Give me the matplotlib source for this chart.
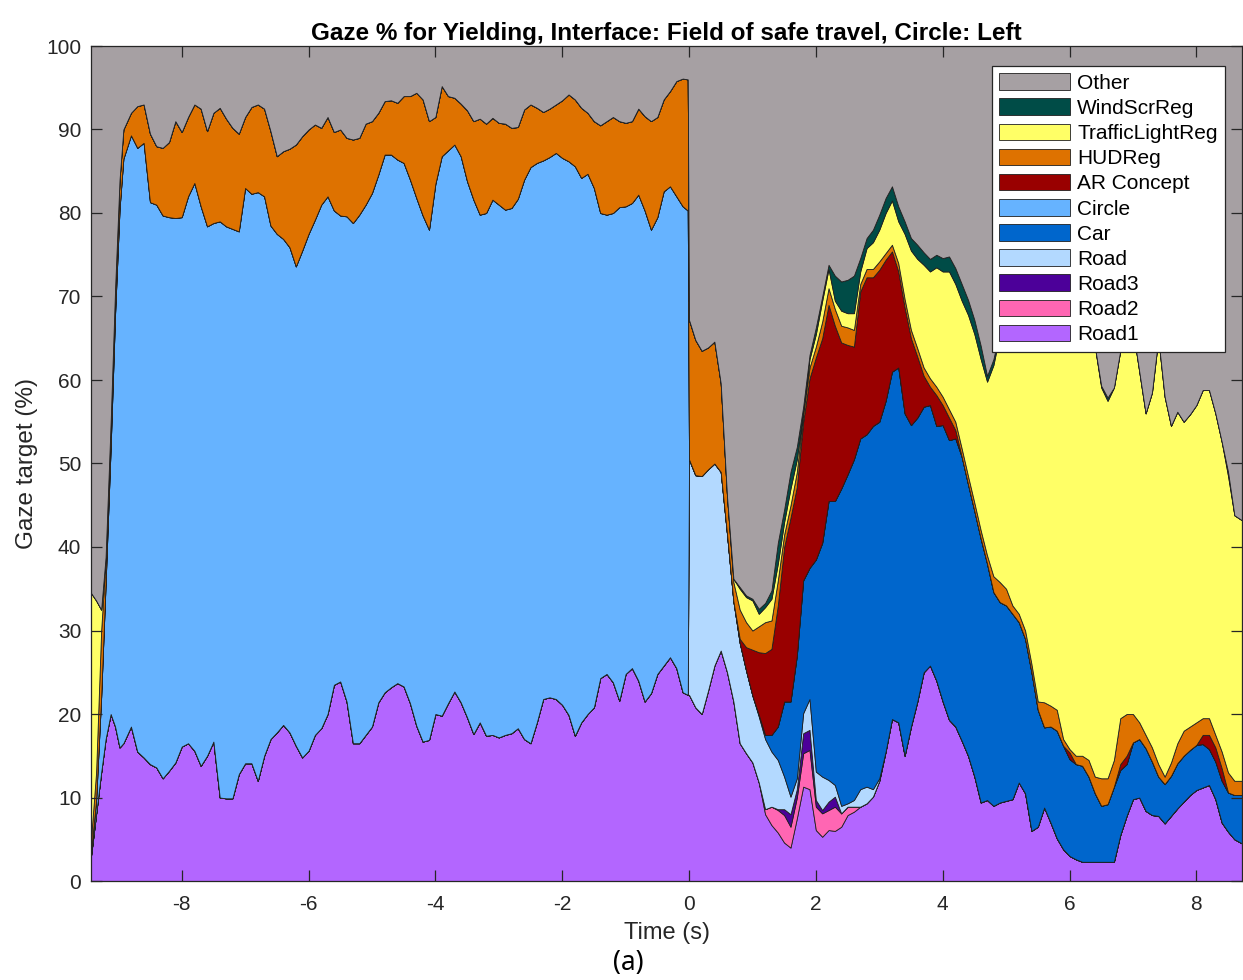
import matplotlib
matplotlib.use("Agg")
import matplotlib.pyplot as plt
import numpy as np

# sample times (s): before the circle switch (t < 0) and after it
time_left = [-9.43, -9.35, -9.27, -9.2, -9.12, -9.05, -8.98, -8.92] + \
    list(np.round(np.arange(-8.8, -0.05, 0.1), 2)) + [-0.02]
time_right = list(np.round(np.arange(0.0, 8.65, 0.1), 2)) + [8.72]
N_LEFT = len(time_left)

# gaze share (%) per target, t < 0
road1_left = [3.0, 8.0, 13.0, 17.0, 20.0, 18.5, 16.0, 16.5,
              18.5, 15.5, 14.8, 14.0, 13.6, 12.3, 13.2, 14.2, 16.1, 16.5,
              15.6, 13.8, 15.0, 16.7, 10.0, 9.9, 9.9, 12.8, 14.1, 14.1,
              12.0, 15.0, 17.0, 17.8, 18.7, 17.8, 16.2, 14.8, 15.6, 17.5,
              18.3, 20.0, 23.5, 23.9, 21.5, 16.5, 16.5, 17.5, 18.5, 21.4,
              22.6, 23.2, 23.7, 23.3, 21.3, 18.6, 16.7, 16.9, 20.0, 19.8,
              21.3, 22.7, 21.4, 19.6, 17.6, 19.0, 17.4, 17.5, 17.2, 17.5,
              17.7, 18.3, 17.0, 16.5, 19.0, 21.8, 22.0, 21.8, 21.1, 19.9,
              17.4, 19.0, 20.0, 20.8, 24.3, 24.8, 23.8, 21.6, 24.8, 25.5,
              24.0, 21.5, 22.5, 24.8, 25.8, 26.8, 25.5, 22.6,
              22.3]
circle_left = [0.5, 1.6, 9.0, 18.6, 32.0, 49.5, 64.5, 70.0,
               70.8, 72.3, 73.6, 67.3, 67.4, 67.4, 66.3, 65.2, 63.4, 65.5,
               68.0, 67.0, 63.4, 62.1, 69.0, 68.5, 68.2, 65.0, 68.9, 68.2,
               70.5, 67.0, 61.5, 59.7, 58.2, 58.1, 57.4, 60.7, 61.9, 61.7,
               62.7, 62.0, 56.8, 55.8, 58.1, 62.3, 63.3, 63.5, 63.9, 63.2,
               64.4, 63.8, 62.7, 62.7, 62.7, 63.2, 63.0, 61.1, 63.5, 67.0,
               66.2, 65.5, 65.4, 64.2, 64.0, 60.8, 62.6, 64.1, 63.8, 62.9,
               62.9, 63.4, 67.0, 69.0, 67.0, 64.5, 64.7, 65.4, 65.5, 66.3,
               68.2, 65.2, 64.7, 62.2, 55.7, 55.0, 56.2, 59.1, 56.0, 55.7,
               58.2, 58.8, 55.5, 54.7, 56.8, 56.4, 56.5, 58.2,
               58.0]
hud_left = [1.5, 3.4, 8.0, 2.9, 3.0, 3.0, 3.5, 3.5,
            2.7, 5.0, 4.6, 8.2, 7.0, 8.1, 9.0, 11.6, 10.2, 9.5,
            9.4, 11.7, 11.4, 13.2, 13.6, 12.9, 12.1, 11.7, 8.5, 10.4,
            10.5, 10.5, 11.3, 9.3, 10.5, 11.8, 14.6, 13.7, 12.5, 11.4,
            9.2, 9.5, 9.4, 10.3, 9.4, 10.0, 9.2, 9.7, 8.6, 7.4,
            6.4, 6.5, 6.8, 8.0, 10.0, 12.6, 13.9, 13.0, 8.0, 8.4,
            6.5, 5.6, 6.3, 8.5, 9.4, 11.5, 10.7, 9.8, 9.8, 10.3,
            9.6, 8.6, 8.4, 7.5, 6.6, 5.8, 5.8, 5.8, 6.9, 8.0,
            8.0, 8.4, 7.3, 8.0, 10.5, 11.2, 11.5, 10.3, 10.0, 9.8,
            10.3, 11.3, 13.0, 12.0, 11.0, 11.4, 13.8, 15.3,
            15.7]
traffic_left = [29.5, 20.6, 2.5, 0.3] + [0] * (N_LEFT - 4)

# gaze share (%) per target, t >= 0
road1_right = [22.3, 20.8, 20.0, 22.8, 25.8, 27.6, 25.0, 21.5, 16.5, 15.3,
               14.2, 11.8, 8.0, 6.7, 5.8, 4.6, 4.0, 7.5, 11.3, 11.0,
               6.1, 5.3, 6.1, 6.0, 6.5, 7.9, 8.3, 8.9, 9.3, 10.1,
               12.0, 15.5, 19.4, 19.0, 15.0, 18.5, 21.5, 25.0, 25.8, 24.0,
               21.5, 19.3, 18.5, 16.8, 15.0, 12.5, 9.4, 9.7, 9.0, 9.4,
               9.6, 9.8, 11.8, 10.5, 6.0, 6.5, 8.8, 7.0, 5.1, 3.8,
               3.0, 2.6, 2.3, 2.3, 2.3, 2.3, 2.3, 2.3, 5.5, 7.8,
               9.8, 10.0, 8.4, 7.9, 7.8, 6.9, 7.8, 8.7, 9.5, 10.3,
               10.9, 11.2, 11.5, 9.8, 7.0, 5.9, 5.0, 4.5]
road2_right = [0] * 12 + [0.6, 2.2, 2.7, 3.3, 2.5, 2.5, 4.0, 4.7,
                          2.8, 2.8, 2.4, 2.9, 1.6, 1.0, 0.6] + [0] * 61
road3_right = [0] * 14 + [0.1, 0.7, 1.5, 1.0, 2.4, 2.4,
                          0.8, 0.4, 1.0, 1.2] + [0] * 64
road_right = [28.2, 27.8, 28.5, 26.5, 24.2, 21.4, 16.5, 12.0, 12.0, 9.9,
              8.0, 7.9, 8.4, 6.6, 5.9, 3.9, 2.1, 1.3, 2.4, 3.7,
              3.4, 4.0, 2.6, 1.4, 0.9, 0.4, 0.8, 2.1, 2.0, 0.9,
              0.3] + [0] * 57
car_right = [0] * 11 + [0.2, 0.5, 2.0, 4.0, 9.0, 11.4, 14.7, 15.9, 15.7,
                        25.4, 28.0, 33.4, 34.0, 38.0, 39.4, 40.8, 42.0, 42.2, 43.5,
                        42.7, 42.0, 41.6, 42.5, 41.0, 36.1, 34.0, 31.8, 31.2, 30.5,
                        33.1, 33.5, 34.5, 34.0, 32.5, 31.8, 31.6, 28.3, 25.6, 24.0,
                        23.4, 22.2, 19.2, 18.5, 19.0, 14.0, 9.6, 11.5, 12.9, 12.4,
                        11.6, 11.4, 11.5, 10.2, 8.2, 6.7, 6.9, 9.0, 7.8, 6.2,
                        6.8, 7.0, 7.5, 6.4, 4.7, 4.7, 4.8, 5.4, 5.5, 5.4,
                        5.4, 5.2, 4.3, 4.5, 5.0, 4.7, 5.3, 5.8]
ar_right = [0] * 8 + [0.5, 2.8, 5.5, 7.5, 9.8, 10.3, 14.5, 18.5, 22.0, 20.2, 19.0, 22.7,
                      24.2, 24.5, 23.5, 21.0, 17.5, 15.5, 13.5, 17.6, 18.8, 17.8,
                      18.2, 16.9, 14.4, 11.5, 12.7, 10.4, 7.3, 3.7, 2.2, 3.7,
                      2.4, 2.7, 1.0, 0] + [0] * 16 + [0.8] + [0] * 7 + \
    [0.7, 1.0] + [0] * 11 + [1.1, 1.7, 1.7, 1.5, 0, 0, 0]
hud_right = [16.7, 16.2, 15.0, 14.6, 14.6, 10.6, 4.5, 2.3, 3.5, 3.0,
             2.3, 3.1, 3.7, 3.4, 3.0, 1.5, 1.5, 1.8, 1.0, 1.3,
             1.3, 2.0, 2.0, 2.0, 2.0, 2.1, 2.0, 0.9, 1.0, 1.0,
             1.0, 0.8, 0.8, 1.0, 1.0, 1.0, 1.0, 1.0, 1.0, 1.0,
             1.0, 1.0, 1.0, 1.0, 1.0, 1.0, 1.0, 1.0, 1.9, 2.4,
             2.0, 1.0, 1.0, 1.0, 1.0, 1.0, 3.0, 2.5, 2.5, 0.8,
             0.4, 1.0, 1.2, 2.0, 2.0, 3.3, 3.1, 3.2, 5.5, 5.0,
             3.4, 2.0, 1.6, 1.7, 1.5, 0.9, 1.6, 2.4, 3.0, 2.8,
             2.7, 2.0, 2.0, 1.5, 2.0, 2.4, 1.7, 1.7]
traffic_right = [0] * 7 + [0.4, 2.5, 3.0, 3.6, 1.5, 1.8, 2.6, 2.0, 1.5, 2.0, 1.5, 0.3, 1.0,
                           1.5, 2.5, 2.3, 1.0, 1.8, 1.7, 2.0, 1.5, 2.5, 3.2,
                           3.8, 4.8, 5.3, 5.0, 7.8, 9.5, 10.7, 12.3, 12.8, 14.3,
                           15.0, 16.5, 16.5, 17.7, 19.3, 20.2, 20.5, 20.8, 25.3, 29.7,
                           31.0, 33.0, 34.0, 36.0, 40.0, 44.5, 44.6, 45.0, 45.5, 49.0,
                           50.2, 51.0, 51.0, 51.5, 51.5, 46.8, 45.2, 44.6, 44.0, 46.0,
                           46.0, 42.0, 38.5, 42.5, 51.0, 45.5, 40.3, 39.7, 37.0, 37.4,
                           38.0, 39.3, 39.3, 38.5, 37.1, 35.5, 31.8, 31.2]
windscr_right = [0] * 8 + [0.2, 0.2, 0.2, 0.6, 0.5, 1.0, 2.5, 1.5, 2.0, 1.5, 0.5, 0.5,
                           0.8, 0.5, 0.5, 3.0, 3.5, 4.0, 4.5, 1.6, 1.2, 1.5,
                           1.8, 1.8, 1.7, 1.8, 1.5, 1.5, 1.7, 1.5, 1.5, 1.5,
                           1.6, 1.8, 1.9, 2.0, 1.8, 1.7, 1.6, 0.7, 0.7, 0.5] + \
    [0] * 15 + [0.2, 0.4] + [0] * 18 + [0.5, 0, 0]

time = np.array(time_left + time_right)
zeros_left = [0] * N_LEFT
road1 = np.array(road1_left + road1_right)
road2 = np.array(zeros_left + road2_right)
road3 = np.array(zeros_left + road3_right)
road = np.array(zeros_left + road_right)
car = np.array(zeros_left + car_right)
circle = np.array(circle_left + [0] * len(time_right))
ar_concept = np.array(zeros_left + ar_right)
hud = np.array(hud_left + hud_right)
traffic = np.array(traffic_left + traffic_right)
windscr = np.array(zeros_left + windscr_right)
# everything not on a listed target fills up to 100 %
other = 100 - (road1 + road2 + road3 + road + car + circle + ar_concept
               + hud + traffic + windscr)

labels = ["Road1", "Road2", "Road3", "Road", "Car", "Circle", "AR Concept",
          "HUDReg", "TrafficLightReg", "WindScrReg", "Other"]
colors = ["#B366FF", "#FF66B3", "#4C0099", "#B3D9FF", "#0066CC", "#66B3FF",
          "#990000", "#DE7200", "#FFFF66", "#004C47", "#A6A0A3"]
series = [road1, road2, road3, road, car, circle, ar_concept, hud, traffic,
          windscr, other]

plt.rcParams["font.family"] = ["Liberation Sans", "DejaVu Sans"]
plt.rcParams["axes.unicode_minus"] = False
TXT = "#262626"

fig = plt.figure(figsize=(12.43, 9.8), dpi=100, facecolor="white")
ax = fig.add_axes([91 / 1243, 99 / 980, 1151 / 1243, 835 / 980])

polys = ax.stackplot(time, *series, labels=labels, colors=colors,
                     edgecolor="#1f1f1f", linewidth=0.6)

ax.set_xlim(-9.43, 8.72)
ax.set_ylim(0, 100)
ax.set_xticks(np.arange(-8, 9, 2))
ax.set_yticks(np.arange(0, 101, 10))
ax.tick_params(direction="in", top=True, right=True, length=8, width=0.9,
               colors=TXT, labelsize=15)
ax.tick_params(axis="x", pad=10)
ax.tick_params(axis="y", pad=7)
for sp in ax.spines.values():
    sp.set_color(TXT)
    sp.set_linewidth(0.9)

ax.set_title("Gaze % for Yielding, Interface: Field of safe travel, Circle: Left",
             fontsize=17.5, fontweight="bold", color="black", pad=4)
ax.set_xlabel("Time (s)", fontsize=17, color=TXT, labelpad=6)
ax.set_ylabel("Gaze target (%)", fontsize=17.5, color=TXT, labelpad=6)

handles = polys[::-1]
leg = ax.legend(handles, labels[::-1], loc="upper right",
                bbox_to_anchor=((1225 - 91) / 1151, (881 - 66) / 835),
                borderaxespad=0, fontsize=15, frameon=True, fancybox=False,
                framealpha=1, edgecolor=TXT, labelspacing=0.27,
                handlelength=3.4, handleheight=0.85, handletextpad=0.35,
                borderpad=0.35)
leg.get_frame().set_linewidth(0.9)

fig.text(628 / 1243, 1 - 963 / 980, "(a)", ha="center", va="center",
         fontsize=19, family=["Noto Sans", "DejaVu Sans"], color="black")

fig.savefig("out.png", dpi=100, facecolor="white")
